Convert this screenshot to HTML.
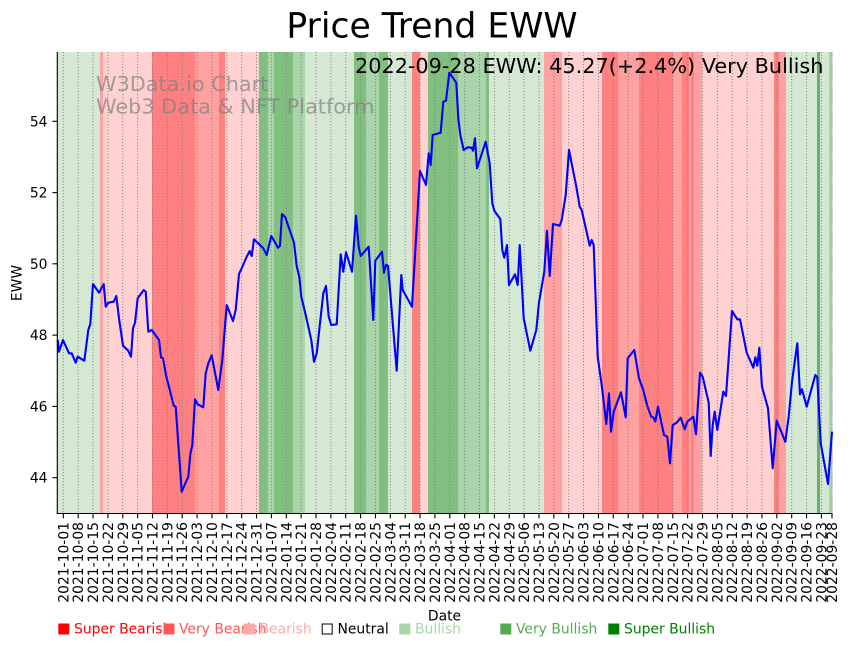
<!DOCTYPE html>
<html>
<head>
<meta charset="utf-8">
<style>
html,body{margin:0;padding:0;background:#fff;}
svg{display:block;}
text{font-family:"DejaVu Sans","Liberation Sans",sans-serif;}
</style>
</head>
<body>
<svg width="851" height="646" viewBox="0 0 851 646" xmlns="http://www.w3.org/2000/svg">
<rect x="0" y="0" width="851" height="646" fill="#fff"/>
<!-- bands -->
<g shape-rendering="crispEdges">
<rect x="57.3" y="52" width="42.7" height="461" fill="#d5e8d4"/>
<rect x="100" y="52" width="3" height="461" fill="#ffa1a1"/>
<rect x="103" y="52" width="49" height="461" fill="#ffd1d1"/>
<rect x="152" y="52" width="43" height="461" fill="#ff8080"/>
<rect x="195" y="52" width="24" height="461" fill="#ffa1a1"/>
<rect x="219" y="52" width="6" height="461" fill="#ff8080"/>
<rect x="225" y="52" width="34" height="461" fill="#ffd1d1"/>
<rect x="259" y="52" width="9" height="461" fill="#80bf80"/>
<rect x="268" y="52" width="6" height="461" fill="#aad4aa"/>
<rect x="274" y="52" width="19" height="461" fill="#80bf80"/>
<rect x="293" y="52" width="12" height="461" fill="#aad4aa"/>
<rect x="305" y="52" width="49" height="461" fill="#d5e8d4"/>
<rect x="354" y="52" width="12" height="461" fill="#80bf80"/>
<rect x="366" y="52" width="13" height="461" fill="#aad4aa"/>
<rect x="379" y="52" width="9" height="461" fill="#80bf80"/>
<rect x="388" y="52" width="24" height="461" fill="#d5e8d4"/>
<rect x="412" y="52" width="8" height="461" fill="#ff8080"/>
<rect x="420" y="52" width="8" height="461" fill="#ffd1d1"/>
<rect x="428" y="52" width="30" height="461" fill="#80bf80"/>
<rect x="458" y="52" width="28" height="461" fill="#aad4aa"/>
<rect x="486" y="52" width="3" height="461" fill="#80bf80"/>
<rect x="489" y="52" width="55" height="461" fill="#d5e8d4"/>
<rect x="544" y="52" width="18" height="461" fill="#ffa1a1"/>
<rect x="562" y="52" width="40" height="461" fill="#ffd1d1"/>
<rect x="602" y="52" width="16" height="461" fill="#ff8080"/>
<rect x="618" y="52" width="21" height="461" fill="#ffa1a1"/>
<rect x="639" y="52" width="34" height="461" fill="#ff8080"/>
<rect x="673" y="52" width="9" height="461" fill="#ffa1a1"/>
<rect x="682" y="52" width="12" height="461" fill="#ff8080"/>
<rect x="689" y="52" width="2" height="461" fill="#ffa1a1"/>
<rect x="694" y="52" width="8" height="461" fill="#ffa1a1"/>
<rect x="702" y="52" width="72" height="461" fill="#ffd1d1"/>
<rect x="774" y="52" width="5" height="461" fill="#ff8080"/>
<rect x="779" y="52" width="7" height="461" fill="#ffa1a1"/>
<rect x="786" y="52" width="31" height="461" fill="#d5e8d4"/>
<rect x="817" y="52" width="3" height="461" fill="#6ab06a"/>
<rect x="820" y="52" width="9" height="461" fill="#d5e8d4"/>
<rect x="829" y="52" width="3.3" height="461" fill="#aad4aa"/>
</g>
<!-- vertical grid -->
<g stroke="#808080" stroke-width="1" stroke-dasharray="1.1,1.9" opacity="0.9">
<line x1="63.3" y1="52" x2="63.3" y2="513"/><line x1="78.17" y1="52" x2="78.17" y2="513"/><line x1="93.03" y1="52" x2="93.03" y2="513"/><line x1="107.9" y1="52" x2="107.9" y2="513"/><line x1="122.76" y1="52" x2="122.76" y2="513"/><line x1="137.63" y1="52" x2="137.63" y2="513"/><line x1="152.49" y1="52" x2="152.49" y2="513"/><line x1="167.36" y1="52" x2="167.36" y2="513"/><line x1="182.22" y1="52" x2="182.22" y2="513"/><line x1="197.09" y1="52" x2="197.09" y2="513"/><line x1="211.95" y1="52" x2="211.95" y2="513"/><line x1="226.82" y1="52" x2="226.82" y2="513"/><line x1="241.68" y1="52" x2="241.68" y2="513"/><line x1="256.55" y1="52" x2="256.55" y2="513"/><line x1="271.41" y1="52" x2="271.41" y2="513"/><line x1="286.28" y1="52" x2="286.28" y2="513"/><line x1="301.14" y1="52" x2="301.14" y2="513"/><line x1="316.01" y1="52" x2="316.01" y2="513"/><line x1="330.87" y1="52" x2="330.87" y2="513"/><line x1="345.74" y1="52" x2="345.74" y2="513"/><line x1="360.6" y1="52" x2="360.6" y2="513"/><line x1="375.47" y1="52" x2="375.47" y2="513"/><line x1="390.33" y1="52" x2="390.33" y2="513"/><line x1="405.2" y1="52" x2="405.2" y2="513"/><line x1="420.06" y1="52" x2="420.06" y2="513"/><line x1="434.93" y1="52" x2="434.93" y2="513"/><line x1="449.79" y1="52" x2="449.79" y2="513"/><line x1="464.66" y1="52" x2="464.66" y2="513"/><line x1="479.52" y1="52" x2="479.52" y2="513"/><line x1="494.39" y1="52" x2="494.39" y2="513"/><line x1="509.25" y1="52" x2="509.25" y2="513"/><line x1="524.12" y1="52" x2="524.12" y2="513"/><line x1="538.98" y1="52" x2="538.98" y2="513"/><line x1="553.85" y1="52" x2="553.85" y2="513"/><line x1="568.71" y1="52" x2="568.71" y2="513"/><line x1="583.58" y1="52" x2="583.58" y2="513"/><line x1="598.44" y1="52" x2="598.44" y2="513"/><line x1="613.31" y1="52" x2="613.31" y2="513"/><line x1="628.17" y1="52" x2="628.17" y2="513"/><line x1="643.04" y1="52" x2="643.04" y2="513"/><line x1="657.9" y1="52" x2="657.9" y2="513"/><line x1="672.77" y1="52" x2="672.77" y2="513"/><line x1="687.63" y1="52" x2="687.63" y2="513"/><line x1="702.5" y1="52" x2="702.5" y2="513"/><line x1="717.36" y1="52" x2="717.36" y2="513"/><line x1="732.23" y1="52" x2="732.23" y2="513"/><line x1="747.09" y1="52" x2="747.09" y2="513"/><line x1="761.96" y1="52" x2="761.96" y2="513"/><line x1="776.82" y1="52" x2="776.82" y2="513"/><line x1="791.69" y1="52" x2="791.69" y2="513"/><line x1="806.55" y1="52" x2="806.55" y2="513"/><line x1="821.42" y1="52" x2="821.42" y2="513"/><line x1="832" y1="52" x2="832" y2="513"/>
</g>
<!-- watermark -->
<g fill="#808080" opacity="0.7" font-size="20.8">
<text x="96" y="91">W3Data.io Chart</text>
<text x="96" y="113.5">Web3 Data &amp; NFT Platform</text>
</g>
<!-- price line -->
<polyline fill="none" stroke="#0000ff" stroke-width="2.1" stroke-linejoin="round" stroke-linecap="butt" points="57.7,340 59,351.7 63,340 69,353.3 71.7,353.3 75.7,362.7 77.7,356.7 84.3,360.7 88.3,330 90.3,324 93,284 99,292.7 103.7,284 105.7,306.7 108.3,302.7 113.7,301.7 116.3,296 119,318.3 123,345.7 128.3,350.7 131,356.7 133,328.3 135,322.7 137.7,298.3 143.7,290 145.7,291.7 148.3,331.7 151.7,330 159,340 161,357.3 163,358.3 166.3,376.7 169,386.7 173.7,405.7 175.7,406.7 181.7,491.7 188.3,476.7 190.3,454.3 192.3,445 195,399.3 197.7,404.3 203.3,407.3 205.7,373.3 208.3,363.3 211.7,355.3 218.3,390 222.3,360 226.7,305 233,321 235.7,310 239,274 241.7,268.3 246.7,256.7 249.7,251 251.7,256 254,239.3 263.3,248.3 266.7,255 271.3,236 278,247.7 280,245.7 282,214 285.3,217.3 294,242.7 296.7,266 299.3,276.7 301.3,296.7 305.3,313.3 311.3,340 314,361.7 316.7,353.3 323.3,293.3 326,286 328.7,316.7 331.3,325 336.7,324.3 340.7,254.3 343.3,271.7 346,252.3 352,271.7 356,215.7 358.7,246.7 360.7,256 368.7,246.7 373.3,320 375.3,260.7 382,251.7 384,272.7 386,265 388,265.7 396.7,370.7 401.3,275 402.7,290 412,306.7 420,171 426,185 428.7,153.3 430.7,165 432.7,135 440.7,132.7 443.3,101.7 446,100.7 449.3,72.7 456.3,82.7 458.3,118.3 460.3,135 463.7,150 467.7,147.3 471.7,147.7 473,150.7 475,138.3 477,168.3 485.7,141.7 489.7,163.3 492.3,203.3 494.3,210.7 500.3,219 502.3,250 504.3,257.7 507,245 509,285 515,274.3 517.7,285 519.7,245 523.7,318.3 530.3,350.7 536.3,330 539,302.3 544.3,271.7 547,230.7 549.7,276 553,224 559.7,225.7 561.7,220 565.7,195 569,150 576.3,186.7 579.7,206.7 581.7,210 589.7,245.7 591.7,240 593.7,245 597.7,356.7 601.7,385 606.3,424 609,393.3 611,431.7 613.7,411.7 621,392.3 625.7,417.3 627.7,358.3 634.3,350 639,378.3 643.3,390 647.3,406 651.3,416.7 653.3,417.3 655.3,421.7 658,406.7 664,435 667.3,436.7 670,463.3 672.7,425 676.7,422.7 680.7,417.7 684.7,429.3 687.3,421.7 693.3,416.7 696,434.3 700,372.7 702.7,376.7 708.7,402.7 710.7,456 712.7,425 714.7,411.7 717.3,430 723.3,391.7 726,396 732,311 737.3,319.3 740,319.3 746.7,352.7 753.3,367.7 755.3,357.3 757.3,365.7 759.3,347.7 762,386.7 768,408.3 772.7,468.3 776.7,420.7 785.3,441.7 788.7,416.7 792,381.7 797.3,343.3 800,394.3 802,389.3 806.7,406.7 815.3,375 817.3,377.3 820.7,443.3 828,484 832,431.7"/>
<!-- annotation -->
<text x="355" y="73" font-size="20.8" fill="#000">2022-09-28 EWW: 45.27(+2.4%) Very Bullish</text>
<!-- title -->
<text x="432" y="37.5" font-size="34.6" text-anchor="middle" fill="#000">Price Trend EWW</text>
<!-- spines -->
<g stroke="#000" stroke-width="1.1" fill="none">
<line x1="57.3" y1="52" x2="57.3" y2="514"/>
<line x1="56.8" y1="513.5" x2="832.5" y2="513.5"/>
</g>
<!-- y ticks -->
<g stroke="#000" stroke-width="1.1">
<line x1="52.4" y1="477.7" x2="57.3" y2="477.7"/>
<line x1="52.4" y1="406.4" x2="57.3" y2="406.4"/>
<line x1="52.4" y1="335.1" x2="57.3" y2="335.1"/>
<line x1="52.4" y1="263.8" x2="57.3" y2="263.8"/>
<line x1="52.4" y1="192.6" x2="57.3" y2="192.6"/>
<line x1="52.4" y1="121.3" x2="57.3" y2="121.3"/>
</g>
<g font-size="13.9" text-anchor="end" fill="#000">
<text x="47.5" y="482.7">44</text>
<text x="47.5" y="411.4">46</text>
<text x="47.5" y="340.1">48</text>
<text x="47.5" y="268.8">50</text>
<text x="47.5" y="197.6">52</text>
<text x="47.5" y="126.3">54</text>
</g>
<text transform="translate(21.5,283) rotate(-90)" font-size="13.9" text-anchor="middle" fill="#000">EWW</text>
<!-- x ticks -->
<g stroke="#000" stroke-width="1.1">
<line x1="63.3" y1="513.5" x2="63.3" y2="518.4"/><line x1="78.17" y1="513.5" x2="78.17" y2="518.4"/><line x1="93.03" y1="513.5" x2="93.03" y2="518.4"/><line x1="107.9" y1="513.5" x2="107.9" y2="518.4"/><line x1="122.76" y1="513.5" x2="122.76" y2="518.4"/><line x1="137.63" y1="513.5" x2="137.63" y2="518.4"/><line x1="152.49" y1="513.5" x2="152.49" y2="518.4"/><line x1="167.36" y1="513.5" x2="167.36" y2="518.4"/><line x1="182.22" y1="513.5" x2="182.22" y2="518.4"/><line x1="197.09" y1="513.5" x2="197.09" y2="518.4"/><line x1="211.95" y1="513.5" x2="211.95" y2="518.4"/><line x1="226.82" y1="513.5" x2="226.82" y2="518.4"/><line x1="241.68" y1="513.5" x2="241.68" y2="518.4"/><line x1="256.55" y1="513.5" x2="256.55" y2="518.4"/><line x1="271.41" y1="513.5" x2="271.41" y2="518.4"/><line x1="286.28" y1="513.5" x2="286.28" y2="518.4"/><line x1="301.14" y1="513.5" x2="301.14" y2="518.4"/><line x1="316.01" y1="513.5" x2="316.01" y2="518.4"/><line x1="330.87" y1="513.5" x2="330.87" y2="518.4"/><line x1="345.74" y1="513.5" x2="345.74" y2="518.4"/><line x1="360.6" y1="513.5" x2="360.6" y2="518.4"/><line x1="375.47" y1="513.5" x2="375.47" y2="518.4"/><line x1="390.33" y1="513.5" x2="390.33" y2="518.4"/><line x1="405.2" y1="513.5" x2="405.2" y2="518.4"/><line x1="420.06" y1="513.5" x2="420.06" y2="518.4"/><line x1="434.93" y1="513.5" x2="434.93" y2="518.4"/><line x1="449.79" y1="513.5" x2="449.79" y2="518.4"/><line x1="464.66" y1="513.5" x2="464.66" y2="518.4"/><line x1="479.52" y1="513.5" x2="479.52" y2="518.4"/><line x1="494.39" y1="513.5" x2="494.39" y2="518.4"/><line x1="509.25" y1="513.5" x2="509.25" y2="518.4"/><line x1="524.12" y1="513.5" x2="524.12" y2="518.4"/><line x1="538.98" y1="513.5" x2="538.98" y2="518.4"/><line x1="553.85" y1="513.5" x2="553.85" y2="518.4"/><line x1="568.71" y1="513.5" x2="568.71" y2="518.4"/><line x1="583.58" y1="513.5" x2="583.58" y2="518.4"/><line x1="598.44" y1="513.5" x2="598.44" y2="518.4"/><line x1="613.31" y1="513.5" x2="613.31" y2="518.4"/><line x1="628.17" y1="513.5" x2="628.17" y2="518.4"/><line x1="643.04" y1="513.5" x2="643.04" y2="518.4"/><line x1="657.9" y1="513.5" x2="657.9" y2="518.4"/><line x1="672.77" y1="513.5" x2="672.77" y2="518.4"/><line x1="687.63" y1="513.5" x2="687.63" y2="518.4"/><line x1="702.5" y1="513.5" x2="702.5" y2="518.4"/><line x1="717.36" y1="513.5" x2="717.36" y2="518.4"/><line x1="732.23" y1="513.5" x2="732.23" y2="518.4"/><line x1="747.09" y1="513.5" x2="747.09" y2="518.4"/><line x1="761.96" y1="513.5" x2="761.96" y2="518.4"/><line x1="776.82" y1="513.5" x2="776.82" y2="518.4"/><line x1="791.69" y1="513.5" x2="791.69" y2="518.4"/><line x1="806.55" y1="513.5" x2="806.55" y2="518.4"/><line x1="821.42" y1="513.5" x2="821.42" y2="518.4"/><line x1="832" y1="513.5" x2="832" y2="518.4"/>
</g>
<g font-size="13.9" text-anchor="end" fill="#000">
<text transform="translate(63.3,522) rotate(-90)" x="0" y="5">2021-10-01</text>
<text transform="translate(78.17,522) rotate(-90)" x="0" y="5">2021-10-08</text>
<text transform="translate(93.03,522) rotate(-90)" x="0" y="5">2021-10-15</text>
<text transform="translate(107.9,522) rotate(-90)" x="0" y="5">2021-10-22</text>
<text transform="translate(122.76,522) rotate(-90)" x="0" y="5">2021-10-29</text>
<text transform="translate(137.63,522) rotate(-90)" x="0" y="5">2021-11-05</text>
<text transform="translate(152.49,522) rotate(-90)" x="0" y="5">2021-11-12</text>
<text transform="translate(167.36,522) rotate(-90)" x="0" y="5">2021-11-19</text>
<text transform="translate(182.22,522) rotate(-90)" x="0" y="5">2021-11-26</text>
<text transform="translate(197.09,522) rotate(-90)" x="0" y="5">2021-12-03</text>
<text transform="translate(211.95,522) rotate(-90)" x="0" y="5">2021-12-10</text>
<text transform="translate(226.82,522) rotate(-90)" x="0" y="5">2021-12-17</text>
<text transform="translate(241.68,522) rotate(-90)" x="0" y="5">2021-12-24</text>
<text transform="translate(256.55,522) rotate(-90)" x="0" y="5">2021-12-31</text>
<text transform="translate(271.41,522) rotate(-90)" x="0" y="5">2022-01-07</text>
<text transform="translate(286.28,522) rotate(-90)" x="0" y="5">2022-01-14</text>
<text transform="translate(301.14,522) rotate(-90)" x="0" y="5">2022-01-21</text>
<text transform="translate(316.01,522) rotate(-90)" x="0" y="5">2022-01-28</text>
<text transform="translate(330.87,522) rotate(-90)" x="0" y="5">2022-02-04</text>
<text transform="translate(345.74,522) rotate(-90)" x="0" y="5">2022-02-11</text>
<text transform="translate(360.6,522) rotate(-90)" x="0" y="5">2022-02-18</text>
<text transform="translate(375.47,522) rotate(-90)" x="0" y="5">2022-02-25</text>
<text transform="translate(390.33,522) rotate(-90)" x="0" y="5">2022-03-04</text>
<text transform="translate(405.2,522) rotate(-90)" x="0" y="5">2022-03-11</text>
<text transform="translate(420.06,522) rotate(-90)" x="0" y="5">2022-03-18</text>
<text transform="translate(434.93,522) rotate(-90)" x="0" y="5">2022-03-25</text>
<text transform="translate(449.79,522) rotate(-90)" x="0" y="5">2022-04-01</text>
<text transform="translate(464.66,522) rotate(-90)" x="0" y="5">2022-04-08</text>
<text transform="translate(479.52,522) rotate(-90)" x="0" y="5">2022-04-15</text>
<text transform="translate(494.39,522) rotate(-90)" x="0" y="5">2022-04-22</text>
<text transform="translate(509.25,522) rotate(-90)" x="0" y="5">2022-04-29</text>
<text transform="translate(524.12,522) rotate(-90)" x="0" y="5">2022-05-06</text>
<text transform="translate(538.98,522) rotate(-90)" x="0" y="5">2022-05-13</text>
<text transform="translate(553.85,522) rotate(-90)" x="0" y="5">2022-05-20</text>
<text transform="translate(568.71,522) rotate(-90)" x="0" y="5">2022-05-27</text>
<text transform="translate(583.58,522) rotate(-90)" x="0" y="5">2022-06-03</text>
<text transform="translate(598.44,522) rotate(-90)" x="0" y="5">2022-06-10</text>
<text transform="translate(613.31,522) rotate(-90)" x="0" y="5">2022-06-17</text>
<text transform="translate(628.17,522) rotate(-90)" x="0" y="5">2022-06-24</text>
<text transform="translate(643.04,522) rotate(-90)" x="0" y="5">2022-07-01</text>
<text transform="translate(657.9,522) rotate(-90)" x="0" y="5">2022-07-08</text>
<text transform="translate(672.77,522) rotate(-90)" x="0" y="5">2022-07-15</text>
<text transform="translate(687.63,522) rotate(-90)" x="0" y="5">2022-07-22</text>
<text transform="translate(702.5,522) rotate(-90)" x="0" y="5">2022-07-29</text>
<text transform="translate(717.36,522) rotate(-90)" x="0" y="5">2022-08-05</text>
<text transform="translate(732.23,522) rotate(-90)" x="0" y="5">2022-08-12</text>
<text transform="translate(747.09,522) rotate(-90)" x="0" y="5">2022-08-19</text>
<text transform="translate(761.96,522) rotate(-90)" x="0" y="5">2022-08-26</text>
<text transform="translate(776.82,522) rotate(-90)" x="0" y="5">2022-09-02</text>
<text transform="translate(791.69,522) rotate(-90)" x="0" y="5">2022-09-09</text>
<text transform="translate(806.55,522) rotate(-90)" x="0" y="5">2022-09-16</text>
<text transform="translate(821.42,522) rotate(-90)" x="0" y="5">2022-09-23</text>
<text transform="translate(832,522) rotate(-90)" x="0" y="5">2022-09-28</text>
</g>
<text x="444.5" y="620.7" font-size="13.9" text-anchor="middle" fill="#000">Date</text>
<!-- legend -->
<g font-size="13.9">
<rect x="58.3" y="623.5" width="11" height="11" fill="#ff0000"/>
<text x="74" y="633.5" fill="#ff0000">Super Bearish</text>
<rect x="163.5" y="623.5" width="11" height="11" fill="#ff5555"/>
<text x="179" y="633.5" fill="#ff5555">Very Bearish</text>
<rect x="244" y="623.5" width="11" height="11" fill="#ffaaaa"/>
<text x="259.5" y="633.5" fill="#ffaaaa">Bearish</text>
<rect x="322.2" y="624" width="10" height="10" fill="#fff" stroke="#000" stroke-width="1"/>
<text x="337.5" y="633.5" fill="#000">Neutral</text>
<rect x="399.3" y="623.5" width="11" height="11" fill="#aad4aa"/>
<text x="415" y="633.5" fill="#aad4aa">Bullish</text>
<rect x="500.3" y="623.5" width="11" height="11" fill="#55aa55"/>
<text x="516" y="633.5" fill="#55aa55">Very Bullish</text>
<rect x="608.3" y="623.5" width="11" height="11" fill="#008000"/>
<text x="624" y="633.5" fill="#008000">Super Bullish</text>
</g>
</svg>
</body>
</html>
